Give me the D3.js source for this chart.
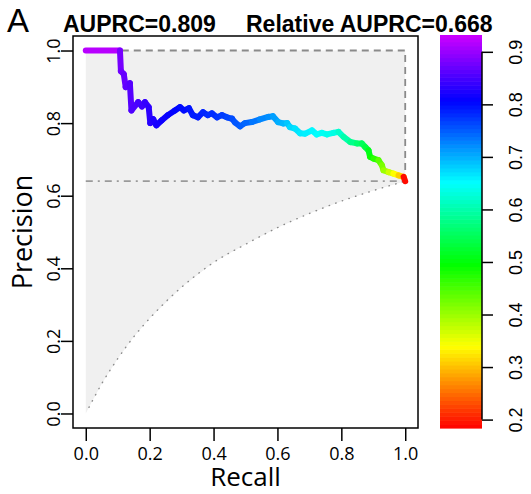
<!DOCTYPE html>
<html>
<head>
<meta charset="utf-8">
<script src="https://cdn.jsdelivr.net/npm/d3@7"></script>
<style>
  body { margin: 0; background: #fff; }
  svg { display: block; }
</style>
</head>
<body>
<svg id="chart" width="531" height="494"></svg>
<script>
// PR curve
var recall = [0.000, 0.107, 0.110, 0.119, 0.125, 0.138, 0.143, 0.164, 0.176, 0.185,
              0.197, 0.202, 0.211, 0.221, 0.238, 0.257, 0.279, 0.295, 0.307, 0.323,
              0.335, 0.351, 0.367, 0.382, 0.395, 0.411, 0.426, 0.442, 0.458, 0.467,
              0.483, 0.498, 0.520, 0.545, 0.571, 0.586, 0.602, 0.618, 0.630, 0.639,
              0.655, 0.671, 0.687, 0.708, 0.723, 0.739, 0.755, 0.775, 0.791, 0.807,
              0.828, 0.849, 0.864, 0.875, 0.885, 0.890, 0.901, 0.916, 0.927, 0.932,
              0.948, 0.963, 0.979, 0.995, 1.000];
var precision = [1.000, 1.000, 0.943, 0.935, 0.899, 0.910, 0.835, 0.858, 0.846, 0.858,
                 0.844, 0.800, 0.811, 0.794, 0.808, 0.822, 0.835, 0.844, 0.835, 0.841,
                 0.822, 0.816, 0.830, 0.822, 0.827, 0.816, 0.822, 0.816, 0.812, 0.802,
                 0.791, 0.800, 0.803, 0.810, 0.817, 0.819, 0.803, 0.799, 0.800, 0.789,
                 0.785, 0.772, 0.771, 0.780, 0.769, 0.773, 0.769, 0.773, 0.776, 0.762,
                 0.748, 0.744, 0.744, 0.734, 0.725, 0.707, 0.702, 0.698, 0.684, 0.670,
                 0.665, 0.661, 0.656, 0.652, 0.640];
var threshold = [0.930, 0.920, 0.880, 0.875, 0.870, 0.865, 0.860, 0.855, 0.850, 0.845,
                 0.840, 0.835, 0.830, 0.825, 0.820, 0.815, 0.810, 0.805, 0.800, 0.800,
                 0.795, 0.790, 0.790, 0.785, 0.780, 0.780, 0.775, 0.770, 0.765, 0.760,
                 0.755, 0.750, 0.745, 0.735, 0.725, 0.720, 0.710, 0.700, 0.695, 0.685,
                 0.675, 0.668, 0.663, 0.660, 0.655, 0.650, 0.645, 0.640, 0.635, 0.620,
                 0.600, 0.580, 0.565, 0.550, 0.535, 0.510, 0.490, 0.470, 0.440, 0.420,
                 0.400, 0.370, 0.340, 0.310, 0.190];

// min-precision curve (dotted) and baseline
var minRecall = [0.00, 0.01, 0.05, 0.10, 0.15, 0.20, 0.30, 0.40, 0.50, 0.60, 0.70, 0.80, 0.90, 1.00];
var minPrecision = [0.000, 0.017, 0.082, 0.151, 0.211, 0.262, 0.348, 0.416, 0.466, 0.512, 0.551, 0.585, 0.614, 0.640];
var prevalence = 0.64;

var axisTicks = [0, 0.2, 0.4, 0.6, 0.8, 1.0];
var colorTicks = [0.2, 0.3, 0.4, 0.5, 0.6, 0.7, 0.8, 0.9];
var colorRange = [0.184, 0.932];

var titleLeft = "AUPRC=0.809";
var titleRight = "Relative AUPRC=0.668";

var svg = d3.select("#chart");

var x = d3.scaleLinear().domain([-0.04, 1.04]).range([73, 418]);
var y = d3.scaleLinear().domain([-0.04, 1.04]).range([428, 36]);

var hue = d3.scaleLinear().domain(colorRange).range([0, 288]);
function colorOf(t) { return d3.hsl(hue(t), 1, 0.5).toString(); }

var line = d3.line().x(function(d) { return x(d[0]); }).y(function(d) { return y(d[1]); });
var minCurve = d3.zip(minRecall, minPrecision);

// grey area between max and min curves
var area = [[0, 1], [1, 1]].concat(minCurve.slice().reverse());
svg.append("path")
    .attr("d", line(area) + "Z")
    .attr("fill", "#f0f0f0");

// max curve, dashed
svg.append("path")
    .attr("d", line([[0, 1], [1, 1], [1, prevalence]]))
    .attr("fill", "none")
    .attr("stroke", "#8a8a8a")
    .attr("stroke-width", 1.8)
    .attr("stroke-dasharray", "7,5");

// baseline, dash-dot
svg.append("line")
    .attr("x1", x(0)).attr("x2", x(1))
    .attr("y1", y(prevalence)).attr("y2", y(prevalence))
    .attr("stroke", "#9a9a9a")
    .attr("stroke-width", 1.8)
    .attr("stroke-dasharray", "7,5,2,5");

// min curve, dotted
svg.append("path")
    .attr("d", d3.line().curve(d3.curveMonotoneX)
        .x(function(d) { return x(d[0]); })
        .y(function(d) { return y(d[1]); })(minCurve.slice(1)))
    .attr("fill", "none")
    .attr("stroke", "#8a8a8a")
    .attr("stroke-width", 1.4)
    .attr("stroke-linecap", "round")
    .attr("stroke-dasharray", "0.5,6.5");

// coloured PR curve
var segs = d3.range(recall.length - 1);
svg.append("g").selectAll("line")
    .data(segs)
    .enter().append("line")
    .attr("x1", function(i) { return x(recall[i]); })
    .attr("y1", function(i) { return y(precision[i]); })
    .attr("x2", function(i) { return x(recall[i + 1]); })
    .attr("y2", function(i) { return y(precision[i + 1]); })
    .attr("stroke", function(i) { return colorOf(threshold[i + 1]); })
    .attr("stroke-width", 6)
    .attr("stroke-linecap", "round");

// box
svg.append("rect")
    .attr("x", 73).attr("y", 36).attr("width", 345).attr("height", 392)
    .attr("fill", "none").attr("stroke", "#000").attr("stroke-width", 1.5);

// axes
var xAxis = svg.append("g")
    .attr("transform", "translate(0,428)")
    .call(d3.axisBottom(x).tickValues(axisTicks).tickFormat(d3.format(".1f")).tickSize(13).tickPadding(6).tickSizeOuter(0));
xAxis.select(".domain").remove();

var yAxis = svg.append("g")
    .attr("transform", "translate(73,0)")
    .call(d3.axisLeft(y).tickValues(axisTicks).tickFormat(d3.format(".1f")).tickSize(12).tickSizeOuter(0));
yAxis.select(".domain").remove();
yAxis.selectAll("text")
    .attr("x", null).attr("dy", null)
    .attr("text-anchor", "middle")
    .attr("transform", "translate(-13,0) rotate(-90)");

svg.selectAll(".tick line").attr("stroke", "#000").attr("stroke-width", 1.5);
svg.selectAll(".tick text")
    .attr("fill", "#000")
    .style("font-family", "'Open Sans', sans-serif")
    .style("font-size", "18px");

svg.append("text")
    .attr("x", 245.5).attr("y", 486)
    .attr("text-anchor", "middle")
    .style("font-family", "'Open Sans', sans-serif")
    .style("font-size", "26px")
    .text("Recall");

svg.append("text")
    .attr("transform", "translate(32,232) rotate(-90)")
    .attr("text-anchor", "middle")
    .style("font-family", "'Open Sans', sans-serif")
    .style("font-size", "27px")
    .text("Precision");

// colour bar
var cy = d3.scaleLinear().domain(colorRange).range([428, 35]);
var step = 0.0075;
svg.append("g").selectAll("rect")
    .data(d3.range(colorRange[0], colorRange[1], step))
    .enter().append("rect")
    .attr("x", 440)
    .attr("width", 42)
    .attr("y", function(t) { return cy(Math.min(t + step, colorRange[1])); })
    .attr("height", function(t) { return cy(t) - cy(Math.min(t + step, colorRange[1])) + 0.6; })
    .attr("fill", function(t) { return colorOf(t + step / 2); });

var cAxis = svg.append("g")
    .attr("transform", "translate(482,0)")
    .call(d3.axisRight(cy).tickValues(colorTicks).tickFormat(d3.format(".1f")).tickSize(11).tickSizeOuter(0));
cAxis.select(".domain").remove();
cAxis.append("line")
    .attr("y1", cy(0.2)).attr("y2", cy(0.9))
    .attr("stroke", "#000").attr("stroke-width", 1.5);
cAxis.selectAll(".tick line").attr("stroke", "#000").attr("stroke-width", 1.5);
cAxis.selectAll("text")
    .attr("x", null).attr("dy", null)
    .attr("text-anchor", "middle")
    .attr("fill", "#000")
    .attr("transform", "translate(40,0) rotate(-90)")
    .style("font-family", "'Liberation Sans', Arial, sans-serif")
    .style("font-size", "18px");

// titles
svg.append("text")
    .attr("x", 7).attr("y", 32)
    .style("font-family", "'Liberation Sans', Arial, sans-serif")
    .style("font-size", "33px")
    .text("A");

svg.append("text")
    .attr("x", 63).attr("y", 32)
    .style("font-family", "'Liberation Sans', Arial, sans-serif")
    .style("font-size", "23px")
    .style("font-weight", "bold")
    .text(titleLeft);

svg.append("text")
    .attr("x", 246).attr("y", 32)
    .style("font-family", "'Liberation Sans', Arial, sans-serif")
    .style("font-size", "23px")
    .style("font-weight", "bold")
    .text(titleRight);
</script>
</body>
</html>
